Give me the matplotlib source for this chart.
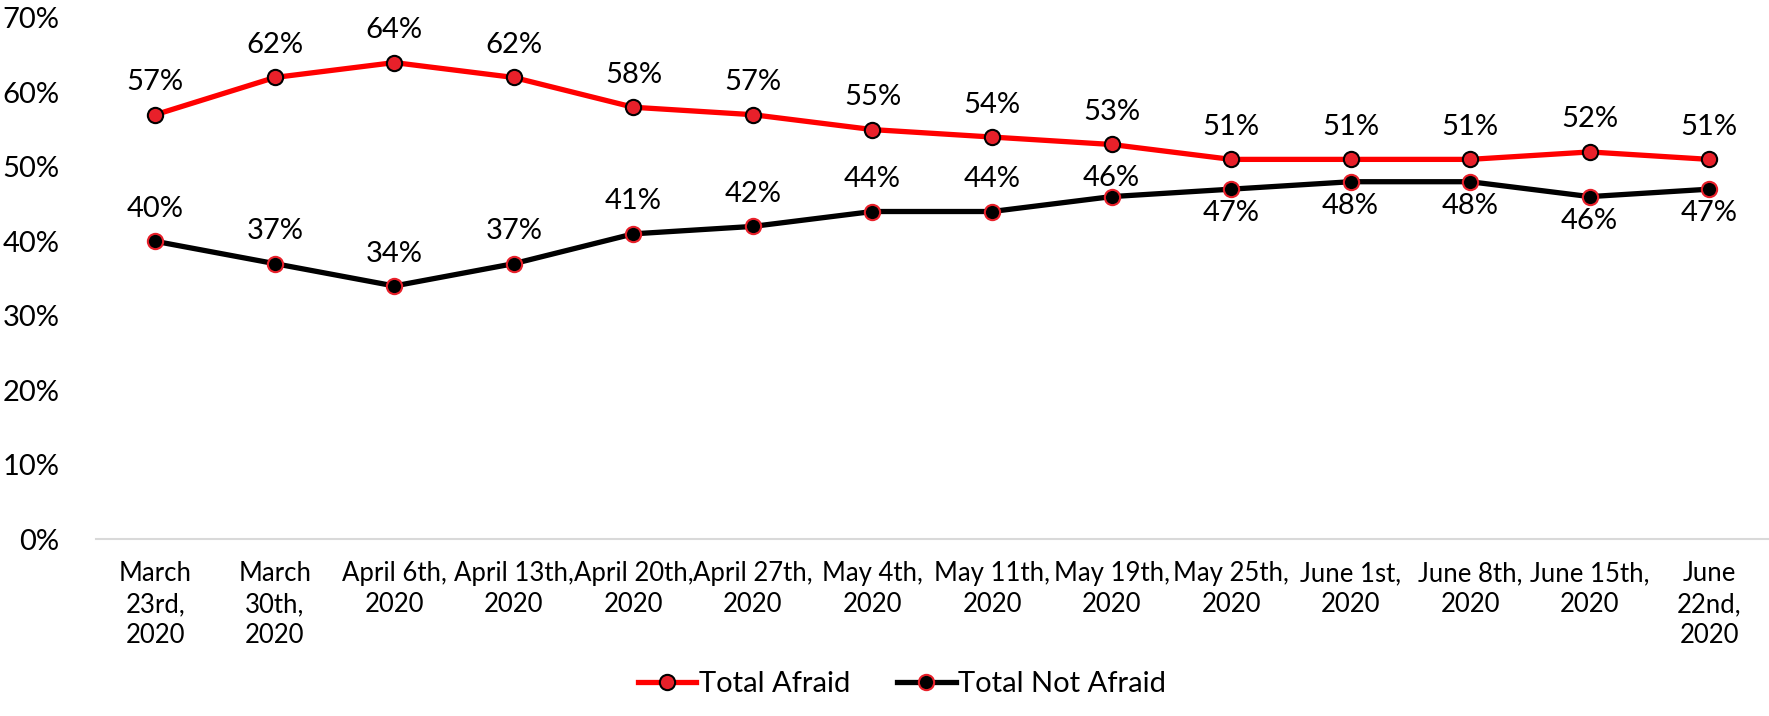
import matplotlib
matplotlib.use("Agg")
import matplotlib.pyplot as plt
from matplotlib.ticker import FuncFormatter

plt.rcParams['font.family'] = ['Lato', 'DejaVu Sans']

# survey dates (tick labels, wrapped like the original)
dates = ["March\n23rd,\n2020", "March\n30th,\n2020", "April 6th,\n2020",
         "April 13th,\n2020", "April 20th,\n2020", "April 27th,\n2020",
         "May 4th,\n2020", "May 11th,\n2020", "May 19th,\n2020",
         "May 25th,\n2020", "June 1st,\n2020", "June 8th,\n2020",
         "June 15th,\n2020", "June\n22nd,\n2020"]

afraid = [57, 62, 64, 62, 58, 57, 55, 54, 53, 51, 51, 51, 52, 51]
not_afraid = [40, 37, 34, 37, 41, 42, 44, 44, 46, 47, 48, 48, 46, 47]

# label offsets (points) for the "not afraid" series: above for early dates, below later
na_offsets = [14, 14, 14, 14, 14, 14, 14, 14, 4, -8, -8, -8, -8, -8]

fig = plt.figure(figsize=(17.69, 7.16), dpi=100)
ax = fig.add_axes([0.054, 0.247, 0.946, 0.728])

x = list(range(len(dates)))
ax.plot(x, afraid, color='#ff0000', lw=3.8, marker='o', ms=11,
        mfc='#e8202a', mec='black', mew=1.5, label='Total Afraid', zorder=3)
ax.plot(x, not_afraid, color='black', lw=3.8, marker='o', ms=11,
        mfc='black', mec='#e8202a', mew=1.5, label='Total Not Afraid', zorder=3)

for i, v in enumerate(afraid):
    ax.annotate(f"{v}%", (i, v), xytext=(0, 14), textcoords='offset points',
                ha='center', va='bottom', fontsize=21)
for i, v in enumerate(not_afraid):
    off = na_offsets[i]
    ax.annotate(f"{v}%", (i, v), xytext=(0, off), textcoords='offset points',
                ha='center', va='bottom' if off > 0 else 'top', fontsize=21)

ax.set_xlim(-0.5, len(dates) - 0.5)
ax.set_ylim(0, 70)
ax.set_yticks(range(0, 71, 10))
ax.yaxis.set_major_formatter(FuncFormatter(lambda v, p: f"{int(v)}%"))
ax.set_xticks(x)
ax.set_xticklabels(dates, fontsize=18.5, linespacing=1.3)
ax.tick_params(axis='y', length=0, labelsize=21, pad=26)
ax.tick_params(axis='x', length=0, pad=16)

for s in ['top', 'right', 'left']:
    ax.spines[s].set_visible(False)
ax.spines['bottom'].set_color('#d9d9d9')
ax.spines['bottom'].set_linewidth(1.5)

fig.legend(loc='lower center', bbox_to_anchor=(0.51, -0.01), ncol=2,
           frameon=False, fontsize=21, handlelength=2.0, handletextpad=0.1,
           columnspacing=1.6)

fig.savefig("out.png", dpi=100)
